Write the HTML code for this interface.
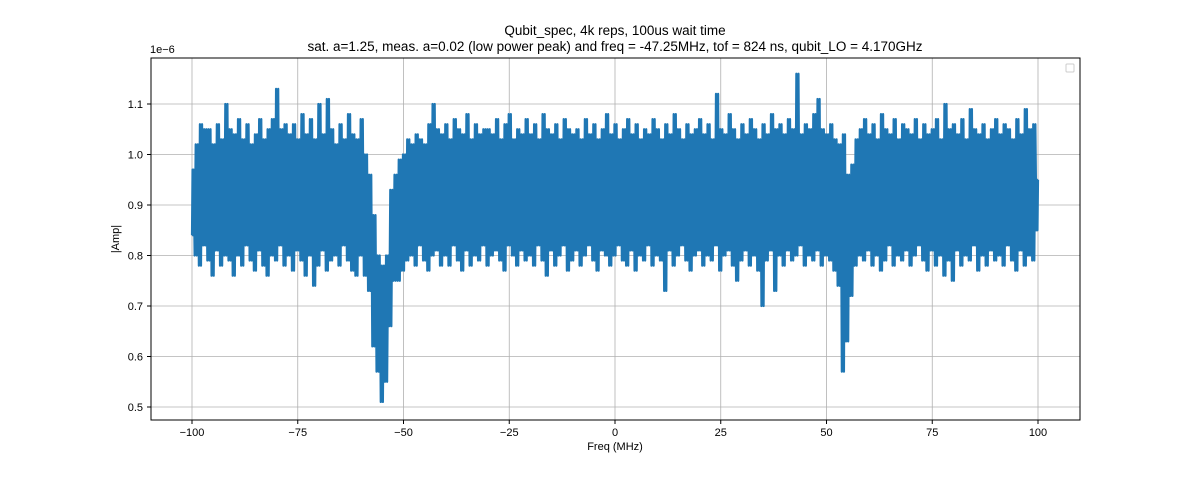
<!DOCTYPE html>
<html><head><meta charset="utf-8"><style>
body{margin:0;background:#fff;}
svg{display:block;font-family:"Liberation Sans","DejaVu Sans",sans-serif;}
</style></head><body>
<svg id="chart" width="1200" height="480">
<text x="615" y="35" text-anchor="middle" font-size="13.5">Qubit_spec, 4k reps, 100us wait time</text>
<text x="615" y="51" text-anchor="middle" font-size="13.5">sat. a=1.25, meas. a=0.02 (low power peak) and freq = -47.25MHz, tof = 824 ns, qubit_LO = 4.170GHz</text>
<g id="grid"></g>
<g id="series"></g>
<rect x="151" y="58" width="929" height="362" fill="none" stroke="#000" stroke-width="1"/>
<g id="axes" font-size="11"></g>
<text x="150" y="53" font-size="11">1e−6</text>
<text x="615" y="450" text-anchor="middle" font-size="11">Freq (MHz)</text>
<text transform="translate(119,239) rotate(-90)" text-anchor="middle" font-size="11">|Amp|</text>
<rect x="1066" y="64" width="8" height="8" rx="1" fill="#fff" stroke="#ccc"/>
</svg>
<script>
const xTicks=[-100,-75,-50,-25,0,25,50,75,100];
const yTicks=[0.5,0.6,0.7,0.8,0.9,1.0,1.1];
const yTickLabels=["0.5","0.6","0.7","0.8","0.9","1.0","1.1"];
const freqStart=-100;
const hiVals=[0.97,1.02,1.06,1.05,1.05,1.02,1.06,1.03,1.10,1.05,
1.04,1.07,1.03,1.06,1.02,1.04,1.07,1.03,1.05,1.07,
1.13,1.05,1.06,1.04,1.06,1.03,1.08,1.04,1.07,1.03,
1.10,1.04,1.11,1.05,1.02,1.06,1.03,1.08,1.04,1.03,
1.07,1.00,0.96,0.88,0.80,0.78,0.80,0.93,0.96,0.99,
1.00,1.03,1.02,1.04,1.03,1.02,1.06,1.10,1.05,1.04,
1.06,1.03,1.07,1.05,1.04,1.08,1.03,1.06,1.04,1.05,
1.05,1.04,1.07,1.03,1.06,1.08,1.03,1.05,1.04,1.07,
1.04,1.06,1.03,1.08,1.05,1.04,1.06,1.03,1.07,1.05,
1.04,1.05,1.03,1.07,1.04,1.06,1.03,1.05,1.08,1.04,
1.06,1.03,1.05,1.07,1.04,1.06,1.03,1.05,1.04,1.07,
1.05,1.03,1.06,1.04,1.08,1.05,1.03,1.06,1.04,1.05,
1.07,1.04,1.06,1.03,1.12,1.05,1.04,1.08,1.05,1.03,
1.06,1.04,1.07,1.05,1.03,1.06,1.04,1.08,1.05,1.06,
1.04,1.07,1.05,1.16,1.04,1.06,1.05,1.08,1.11,1.05,
1.04,1.06,1.03,1.02,1.04,0.96,0.98,1.03,1.05,1.07,
1.04,1.06,1.03,1.08,1.05,1.04,1.07,1.03,1.06,1.05,
1.04,1.07,1.03,1.06,1.04,1.05,1.07,1.03,1.10,1.05,
1.06,1.04,1.07,1.03,1.09,1.05,1.04,1.06,1.03,1.05,
1.07,1.04,1.06,1.05,1.03,1.07,1.04,1.09,1.05,1.06,
0.95];
const loVals=[0.84,0.80,0.78,0.82,0.79,0.76,0.81,0.78,0.80,0.79,
0.76,0.80,0.78,0.82,0.79,0.77,0.81,0.78,0.76,0.80,
0.79,0.82,0.78,0.80,0.77,0.81,0.79,0.76,0.80,0.74,
0.78,0.81,0.77,0.79,0.80,0.78,0.82,0.79,0.77,0.76,
0.80,0.76,0.73,0.62,0.57,0.51,0.55,0.66,0.75,0.75,
0.77,0.79,0.80,0.78,0.82,0.79,0.77,0.80,0.81,0.78,
0.80,0.78,0.82,0.79,0.77,0.81,0.78,0.80,0.79,0.82,
0.78,0.80,0.81,0.79,0.77,0.82,0.80,0.78,0.81,0.79,
0.80,0.78,0.82,0.79,0.76,0.81,0.78,0.80,0.82,0.77,
0.79,0.81,0.78,0.80,0.82,0.79,0.77,0.81,0.80,0.78,
0.80,0.82,0.79,0.78,0.81,0.77,0.80,0.79,0.82,0.78,
0.80,0.79,0.73,0.81,0.78,0.80,0.82,0.79,0.77,0.80,
0.81,0.78,0.80,0.79,0.82,0.77,0.80,0.81,0.78,0.75,
0.79,0.81,0.78,0.80,0.77,0.70,0.79,0.81,0.73,0.80,
0.78,0.81,0.79,0.80,0.82,0.78,0.80,0.79,0.81,0.78,
0.80,0.79,0.77,0.74,0.57,0.63,0.72,0.78,0.80,0.79,
0.81,0.78,0.80,0.77,0.79,0.82,0.78,0.80,0.79,0.81,
0.78,0.80,0.82,0.79,0.77,0.81,0.78,0.80,0.76,0.79,
0.75,0.81,0.78,0.80,0.79,0.82,0.77,0.80,0.78,0.81,
0.79,0.80,0.78,0.82,0.79,0.77,0.81,0.78,0.80,0.79,
0.85];
const NS="http://www.w3.org/2000/svg";
function xs(v){return 192+(v+100)*(1038-192)/200;}
function ys(v){return 407-(v-0.5)*(407-104)/0.6;}
const grid=document.getElementById('grid'),axes=document.getElementById('axes'),ser=document.getElementById('series');
xTicks.forEach(t=>{
 const l=document.createElementNS(NS,'line');
 
 
 l.setAttribute('x1',xs(t));l.setAttribute('x2',xs(t));l.setAttribute('y1',58);l.setAttribute('y2',420);
 l.setAttribute('stroke','#b0b0b0');l.setAttribute('stroke-width','0.8');grid.appendChild(l);
 const k=document.createElementNS(NS,'line');
 
 
 k.setAttribute('x1',xs(t));k.setAttribute('x2',xs(t));k.setAttribute('y1',420);k.setAttribute('y2',424);k.setAttribute('stroke','#000');axes.appendChild(k);
 const tx=document.createElementNS(NS,'text');
 
 
 tx.setAttribute('x',xs(t));tx.setAttribute('y',436);tx.setAttribute('text-anchor','middle');
 tx.textContent=t<0?'−'+Math.abs(t):String(t);axes.appendChild(tx);
});
yTicks.forEach((t,i)=>{
 const l=document.createElementNS(NS,'line');
 
 
 l.setAttribute('x1',151);l.setAttribute('x2',1080);l.setAttribute('y1',ys(t));l.setAttribute('y2',ys(t));
 l.setAttribute('stroke','#b0b0b0');l.setAttribute('stroke-width','0.8');grid.appendChild(l);
 const k=document.createElementNS(NS,'line');
 
 
 k.setAttribute('x1',147);k.setAttribute('x2',151);k.setAttribute('y1',ys(t));k.setAttribute('y2',ys(t));k.setAttribute('stroke','#000');axes.appendChild(k);
 const tx=document.createElementNS(NS,'text');
 
 
 tx.setAttribute('x',143);tx.setAttribute('y',ys(t)+4);tx.setAttribute('text-anchor','end');
 tx.textContent=yTickLabels[i];axes.appendChild(tx);
});
let pts=[];
for(let i=0;i<hiVals.length;i++){
 const f=freqStart+i;
 const offs=i===0?[0,0.125,0.25,0.375]:(i===hiVals.length-1?[-0.375,-0.25,-0.125,0]:[-0.375,-0.125,0.125,0.375]);
 pts.push(xs(f+offs[0]).toFixed(2)+','+ys(loVals[i]).toFixed(2));
 pts.push(xs(f+offs[1]).toFixed(2)+','+ys(hiVals[i]).toFixed(2));
 pts.push(xs(f+offs[2]).toFixed(2)+','+ys(loVals[i]).toFixed(2));
 pts.push(xs(f+offs[3]).toFixed(2)+','+ys(hiVals[i]).toFixed(2));
}
const pl=document.createElementNS(NS,'polyline');


pl.setAttribute('points',pts.join(' '));
pl.setAttribute('fill','none');pl.setAttribute('stroke','#1f77b4');pl.setAttribute('stroke-width','2.2');pl.setAttribute('stroke-linejoin','round');
ser.appendChild(pl);
</script>
</body></html>
